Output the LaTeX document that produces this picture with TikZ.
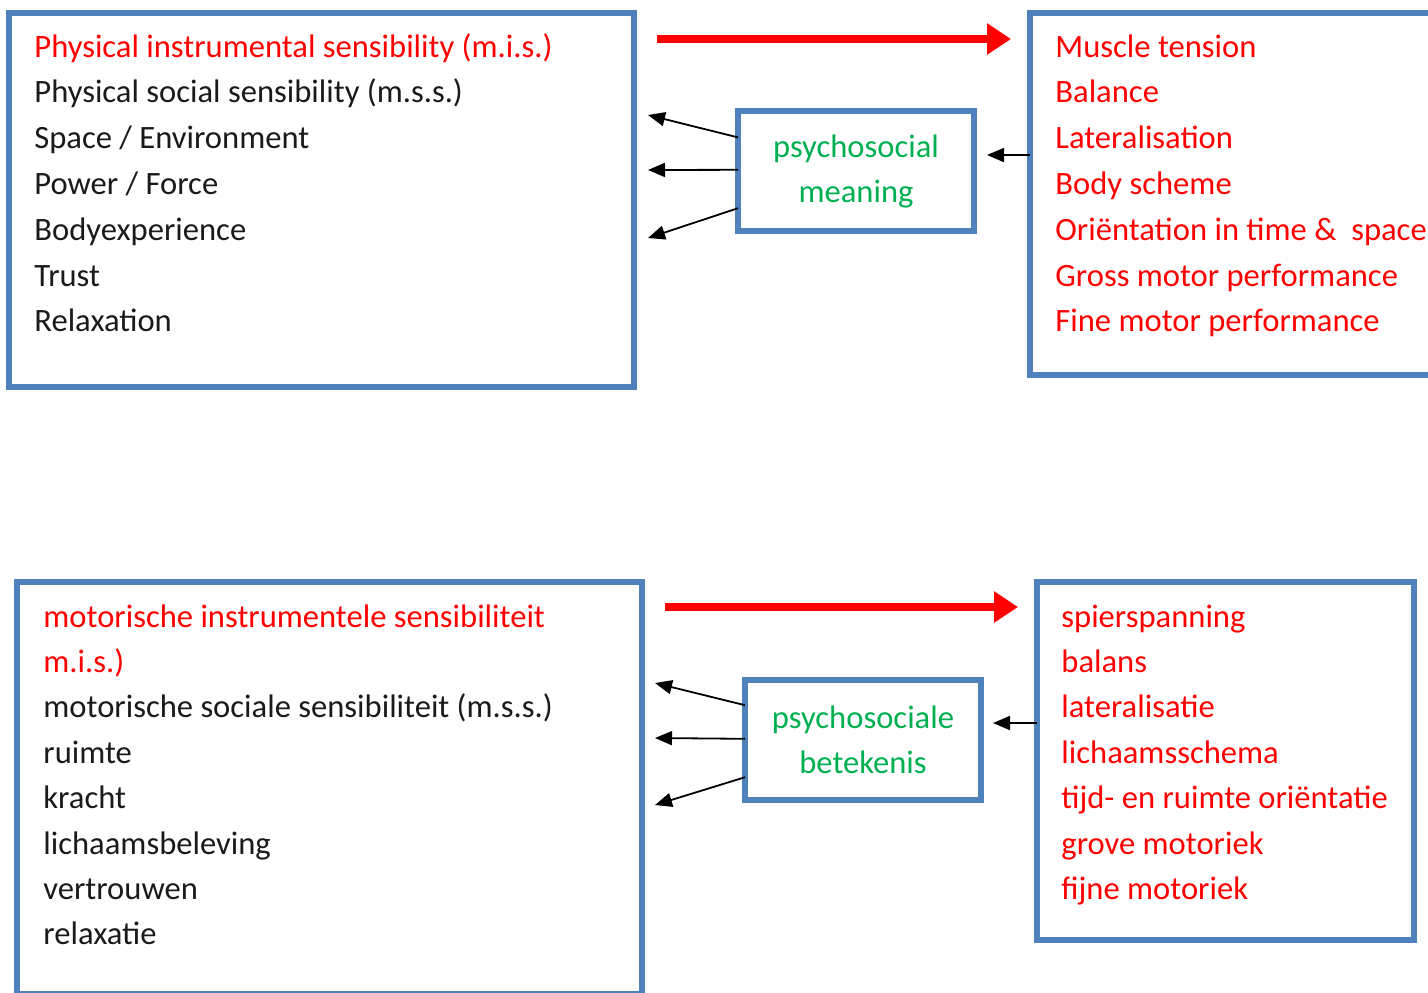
\documentclass[tikz,border=0pt]{standalone}
\usepackage{fontspec}
\setmainfont{Carlito}
\usetikzlibrary{positioning}
\usetikzlibrary{arrows.meta}
\usetikzlibrary{calc}
\definecolor{boxblue}{HTML}{4F81BD}
\definecolor{txtred}{HTML}{FF0000}
\definecolor{txtgreen}{HTML}{00B050}
\definecolor{txtblack}{HTML}{1A1A1A}

\begin{document}
\begin{tikzpicture}[x=0.5pt, y=-0.5pt, font=\fontsize{16.3}{22.5}\selectfont,
  bigbox/.style={draw=boxblue, line width=2.6pt, anchor=north west, inner sep=0pt, outer sep=0pt},
  midbox/.style={draw=boxblue, line width=2.6pt, text=txtgreen, align=center,
                 minimum width=118pt, minimum height=60pt, inner sep=0pt, outer sep=0pt},
  item/.style={anchor=base west, inner sep=0pt},
  thinarrow/.style={draw=black, line width=0.9pt, -{Triangle[length=8.5pt,width=7pt]}},
  bigarrow/.style={draw=txtred, line width=4pt, -{Triangle[length=12pt,width=15pt]}}]

\useasboundingbox (0,0) rectangle (1428,992);
\clip (0,0) rectangle (1428,992);

 % boxes
 \node[bigbox, minimum width=312.5pt, minimum height=187pt] (physbox) at (9,13) {};
 \node[bigbox, minimum width=220pt, minimum height=181pt] (motorbox) at (1030,13) {};
 \node[midbox] (psy) at (856,171) {psychosocial\\meaning};

 % items left
 \node[item, txtred] (a0) at (34,57) {Physical instrumental sensibility (m.i.s.)};
 \foreach \i/\name in {1/Physical social sensibility (m.s.s.), 2/{Space / Environment},
                       3/{Power / Force}, 4/Bodyexperience, 5/Trust, 6/Relaxation} {
        \node[item, txtblack] (a\i) at (34, 57+\i*45.8) {\name};
 }

 % items right
 \foreach \i/\name in {0/Muscle tension, 1/Balance, 2/Lateralisation, 3/Body scheme,
                       4/Oriëntation in time \&\ \ space, 5/Gross motor performance,
                       6/Fine motor performance} {
        \node[item, txtred] (b\i) at (1055, 57+\i*45.8) {\name};
 }

 % lines
 \coordinate (r1) at (657,39);
 \coordinate (r2) at (1011,39);
 \path[bigarrow] (r1) -- (r2);

 \coordinate (p1) at (648,115);
 \coordinate (p2) at (648,170);
 \coordinate (p3) at (648,238);
 \coordinate (q1) at (987,155);
 \path[thinarrow] ($(psy.north west)!0.22!(psy.south west)$) -- (p1);
 \path[thinarrow] ($(psy.north west)!0.49!(psy.south west)$) -- (p2);
 \path[thinarrow] ($(psy.north west)!0.81!(psy.south west)$) -- (p3);
 \path[thinarrow] (motorbox.west |- q1) -- (q1);

 %level 2

 \node[bigbox, minimum width=312.5pt, minimum height=206pt] (physboxnl) at (17,582) {};
 \node[bigbox, minimum width=188.5pt, minimum height=179pt] (motorboxnl) at (1037,582) {};
 \node[midbox] (psynl) at (863,740) {psychosociale\\betekenis};

 \foreach \i/\name in {0/motorische instrumentele sensibiliteit, 1/m.i.s.)} {
        \node[item, txtred] (c\i) at (43, 627+\i*45.4) {\name};
 }
 \foreach \i/\name in {2/motorische sociale sensibiliteit (m.s.s.), 3/ruimte, 4/kracht,
                       5/lichaamsbeleving, 6/vertrouwen, 7/relaxatie} {
        \node[item, txtblack] (c\i) at (43, 627+\i*45.4) {\name};
 }

 \foreach \i/\name in {0/spierspanning, 1/balans, 2/lateralisatie, 3/lichaamsschema,
                       4/tijd- en ruimte oriëntatie, 5/grove motoriek, 6/fijne motoriek} {
        \node[item, txtred] (d\i) at (1061, 627+\i*45.4) {\name};
 }

 % lines
 \coordinate (s1) at (665,607);
 \coordinate (s2) at (1018,607);
 \path[bigarrow] (s1) -- (s2);

 \coordinate (u1) at (655,683);
 \coordinate (u2) at (655,738);
 \coordinate (u3) at (655,805);
 \coordinate (v1) at (993,723);
 \path[thinarrow] ($(psynl.north west)!0.21!(psynl.south west)$) -- (u1);
 \path[thinarrow] ($(psynl.north west)!0.49!(psynl.south west)$) -- (u2);
 \path[thinarrow] ($(psynl.north west)!0.81!(psynl.south west)$) -- (u3);
 \path[thinarrow] (motorboxnl.west |- v1) -- (v1);

\end{tikzpicture}
\end{document}
